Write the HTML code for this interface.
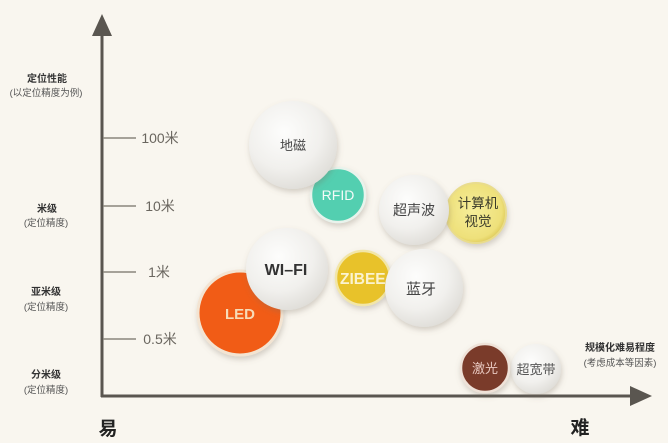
<!DOCTYPE html>
<html><head><meta charset="utf-8"><style>
html,body{margin:0;padding:0;background:#f9f6ef;}
svg{display:block;}
text{font-family:"Liberation Sans","Noto Sans CJK SC",sans-serif;}
</style></head><body>
<svg width="668" height="443" viewBox="0 0 668 443" xmlns="http://www.w3.org/2000/svg">
<defs>
<radialGradient id="gw" cx="40%" cy="35%" r="70%"><stop offset="0" stop-color="#fdfdfc"/><stop offset="0.6" stop-color="#f1f0ed"/><stop offset="1" stop-color="#dedcd7"/></radialGradient>
<radialGradient id="gy" cx="45%" cy="45%" r="60%"><stop offset="0" stop-color="#f6ee9a"/><stop offset="0.8" stop-color="#eee07a"/><stop offset="1" stop-color="#d9c350"/></radialGradient>
<filter id="sh" x="-30%" y="-30%" width="160%" height="160%"><feDropShadow dx="1" dy="3" stdDeviation="3" flood-color="#7a7060" flood-opacity="0.3"/></filter>
</defs>
<rect width="668" height="443" fill="#f9f6ef"/>
<!-- axes -->
<line x1="102" y1="30" x2="102" y2="397" stroke="#5a5650" stroke-width="3"/>
<polygon points="102,14 92,36 112,36" fill="#5a5650"/>
<line x1="101" y1="396" x2="636" y2="396" stroke="#5a5650" stroke-width="3"/>
<polygon points="652,396 630,386 630,406" fill="#5a5650"/>
<!-- ticks -->
<g stroke="#8a857d" stroke-width="1.5">
<line x1="103" y1="138" x2="136" y2="138"/>
<line x1="103" y1="206" x2="136" y2="206"/>
<line x1="103" y1="272" x2="136" y2="272"/>
<line x1="103" y1="339" x2="136" y2="339"/>
</g>
<g fill="#6a665f" font-size="14" text-anchor="middle">
<text x="160" y="143">100米</text>
<text x="160" y="211">10米</text>
<text x="159" y="277">1米</text>
<text x="160" y="344">0.5米</text>
</g>
<!-- left labels -->
<g fill="#333" font-size="10" text-anchor="middle" font-weight="bold">
<text x="47" y="82">定位性能</text>
<text x="47" y="212">米级</text>
<text x="46" y="295">亚米级</text>
<text x="46" y="378">分米级</text>
<text x="620" y="351">规模化难易程度</text>
</g>
<g fill="#555" font-size="9.5" text-anchor="middle">
<text x="46" y="96">(以定位精度为例)</text>
<text x="46" y="226">(定位精度)</text>
<text x="46" y="310">(定位精度)</text>
<text x="46" y="393">(定位精度)</text>
<text x="620" y="366">(考虑成本等因素)</text>
</g>
<text x="108" y="435" font-size="19" font-weight="bold" fill="#222" text-anchor="middle">易</text>
<text x="580" y="434" font-size="19" font-weight="bold" fill="#222" text-anchor="middle">难</text>
<!-- circles -->
<circle cx="338" cy="195" r="27" fill="#53cfb0" stroke="#e9f3ec" stroke-width="2.5" filter="url(#sh)"/>
<text x="338" y="200" font-size="14" fill="#f4fbf8" text-anchor="middle">RFID</text>
<circle cx="293" cy="145" r="44" fill="url(#gw)" filter="url(#sh)"/>
<text x="293" y="150" font-size="13" fill="#444" text-anchor="middle">地磁</text>
<circle cx="476" cy="213" r="30" fill="url(#gy)" stroke="#e9dc8c" stroke-width="2" filter="url(#sh)"/>
<text x="478" y="208" font-size="13.5" fill="#3a3a2a" text-anchor="middle">计算机</text>
<text x="478" y="226" font-size="13.5" fill="#3a3a2a" text-anchor="middle">视觉</text>
<circle cx="414" cy="210" r="35" fill="url(#gw)" filter="url(#sh)"/>
<text x="414" y="215" font-size="14" fill="#444" text-anchor="middle">超声波</text>
<circle cx="363" cy="278" r="27" fill="#e8c22c" stroke="#f2e6a8" stroke-width="2.5" filter="url(#sh)"/>
<text x="340" y="284" font-size="15.5" font-weight="bold" fill="#fbf3d0" text-anchor="start">ZIBEE</text>
<circle cx="424" cy="288" r="39" fill="url(#gw)" filter="url(#sh)"/>
<text x="421" y="294" font-size="15" fill="#444" text-anchor="middle">蓝牙</text>
<circle cx="240" cy="313" r="42" fill="#f15c12" stroke="#f3e4d2" stroke-width="3" filter="url(#sh)"/>
<text x="240" y="319" font-size="15" font-weight="bold" fill="#f7dcb8" text-anchor="middle">LED</text>
<circle cx="287" cy="269" r="41" fill="url(#gw)" filter="url(#sh)"/>
<text x="286" y="275" font-size="16" font-weight="bold" fill="#333" text-anchor="middle">WI–FI</text>
<circle cx="536" cy="369" r="25" fill="url(#gw)" filter="url(#sh)"/>
<text x="536" y="374" font-size="13" fill="#555" text-anchor="middle">超宽带</text>
<circle cx="485" cy="368" r="24" fill="#7a3b2c" stroke="#efe2d8" stroke-width="2.5" filter="url(#sh)"/>
<text x="485" y="373" font-size="13" fill="#e8c8c0" text-anchor="middle">激光</text>
</svg>
</body></html>
